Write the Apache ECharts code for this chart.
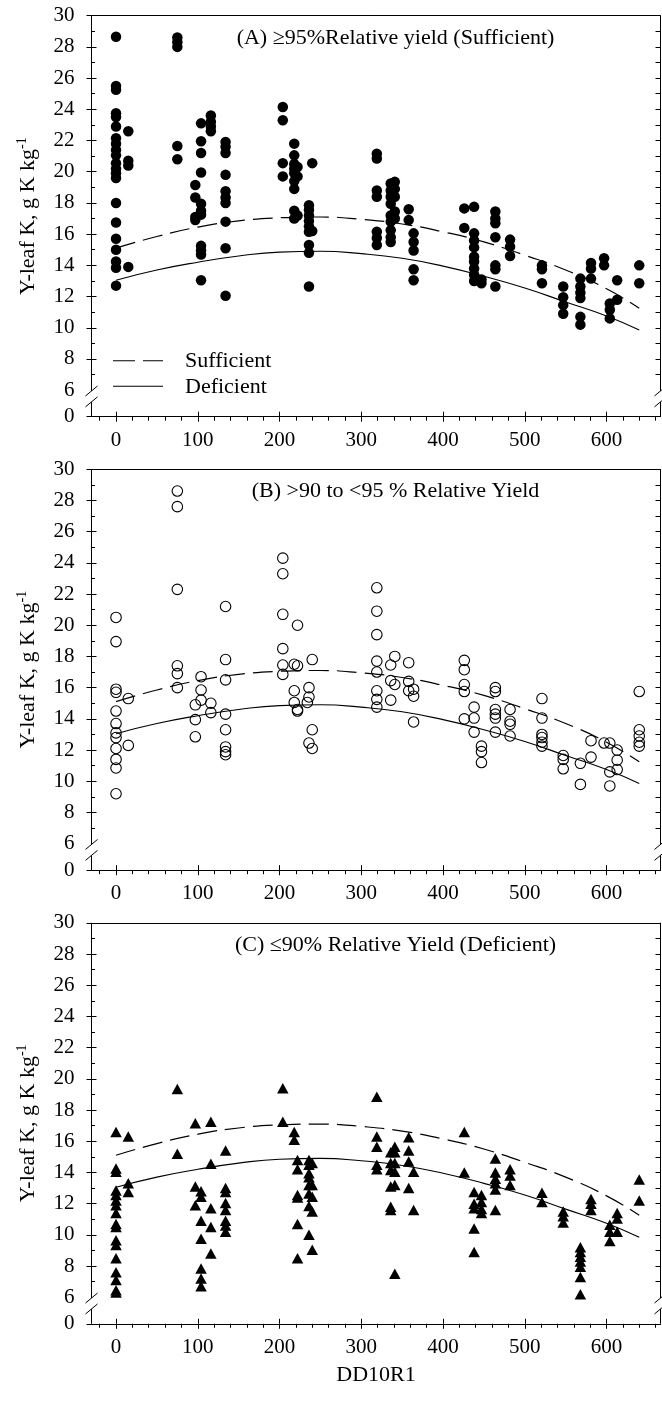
<!DOCTYPE html>
<html>
<head>
<meta charset="utf-8">
<script src="https://cdn.jsdelivr.net/npm/echarts@6/dist/echarts.min.js"></script>
<style>
  html, body { margin: 0; padding: 0; background: #fff; }
  #chart { width: 662px; height: 1404px; }
</style>
</head>
<body>
<div id="chart"></div>
<script>
const FONT = '"Liberation Serif", "Times New Roman", serif';

// Fitted curves (leaf K vs DD10R1) shared by all three panels
const curveX = [0, 50, 100, 150, 200, 250, 300, 350, 400, 450, 500, 550, 600, 640];
const sufficientCurve = [15.1, 15.85, 16.45, 16.85, 17.05, 17.1, 16.95, 16.65, 16.15, 15.5, 14.65, 13.7, 12.5, 11.25];
const deficientCurve = [13.05, 13.7, 14.2, 14.6, 14.85, 14.9, 14.75, 14.45, 13.95, 13.3, 12.55, 11.65, 10.75, 9.85];
const curveNames = ['Sufficient', 'Deficient'];

// Axis ticks
const xTicks = [0, 100, 200, 300, 400, 500, 600];
const xMinorTicks = [-20, 20, 40, 60, 80, 120, 140, 160, 180, 220, 240, 260, 280, 320, 340, 360, 380,
                     420, 440, 460, 480, 520, 540, 560, 580, 620, 640, 660];
const yTicks = [6, 8, 10, 12, 14, 16, 18, 20, 22, 24, 26, 28, 30];
const yMinorTicks = [7, 9, 11, 13, 15, 17, 19, 21, 23, 25, 27, 29];
const yBreakValue = 4.3;   // bottom of the broken axis, labelled "0"

// Observations grouped by DD10R1 value: [DD10R1, [leaf K values]]
const panelA = [
  [0, [28.65, 25.5, 25.25, 23.75, 23.5, 22.9, 22.15, 21.8, 21.4, 21.05, 20.55, 20.2, 19.9, 19.6, 18.0, 16.75, 15.7, 15.0, 14.25, 13.85, 12.7]],
  [15, [22.6, 20.7, 20.4, 13.9]],
  [75, [28.6, 28.3, 28.0, 21.65, 20.8]],
  [97, [19.15, 18.35, 17.1, 16.9]],
  [104, [23.1, 21.95, 21.2, 19.95, 17.95, 17.5, 17.25, 15.25, 14.95, 14.7, 13.05]],
  [116, [23.6, 23.2, 22.9, 22.6]],
  [134, [21.9, 21.6, 21.2, 19.8, 18.75, 18.35, 18.0, 16.8, 15.1, 12.05]],
  [204, [24.15, 23.3, 20.55, 19.7]],
  [218, [21.8, 21.05, 20.5, 20.2, 19.9, 19.4, 18.9, 17.5, 17.0]],
  [222, [20.3, 19.7, 17.2]],
  [236, [17.85, 17.55, 17.2, 16.85, 16.5, 16.15, 15.3, 14.8, 12.65]],
  [240, [20.55, 16.2]],
  [319, [21.15, 20.85, 18.8, 18.4, 16.15, 15.75, 15.3]],
  [336, [19.25, 18.8, 18.4, 17.95, 17.2, 16.8, 16.25, 15.8, 15.5]],
  [341, [19.35, 18.9, 18.4, 17.45, 17.0]],
  [358, [17.6, 16.9]],
  [364, [16.05, 15.5, 14.95, 13.75, 13.05]],
  [426, [17.65, 16.4]],
  [438, [17.75, 16.05, 15.6, 15.15, 14.55, 14.25, 13.8, 13.4, 13.0]],
  [447, [13.1, 12.85]],
  [464, [17.45, 17.0, 16.7, 15.8, 14.0, 13.75, 12.65]],
  [482, [15.65, 15.2, 14.6]],
  [521, [14.0, 13.75, 12.85]],
  [547, [12.65, 11.95, 11.45, 10.9]],
  [568, [13.15, 12.65, 12.25, 11.9, 10.7, 10.2]],
  [581, [14.15, 13.8, 13.15]],
  [597, [14.45, 14.0]],
  [604, [11.55, 11.15, 10.6]],
  [613, [13.05, 11.8]],
  [640, [14.0, 12.85]]
];

const panelB = [
  [0, [20.5, 18.95, 15.9, 15.7, 14.5, 13.7, 13.1, 12.8, 12.1, 11.4, 10.85, 9.2]],
  [15, [15.3, 12.3]],
  [75, [28.6, 27.6, 22.3, 17.4, 16.9, 16.0]],
  [97, [14.9, 13.95, 12.85]],
  [104, [16.7, 15.85, 15.2]],
  [116, [15.0, 14.4]],
  [134, [21.2, 17.8, 16.5, 14.3, 13.3, 12.2, 11.9, 11.7]],
  [204, [24.3, 23.3, 20.7, 18.5, 17.45, 16.85]],
  [218, [17.5, 15.8, 15.05]],
  [222, [20.0, 17.4, 14.6, 14.5]],
  [234, [15.05]],
  [236, [16.0, 15.4, 12.45]],
  [240, [17.8, 13.3, 12.1]],
  [319, [22.4, 20.9, 19.4, 17.7, 17.0, 15.8, 15.25, 14.75]],
  [336, [17.45, 16.45, 15.2]],
  [341, [18.0, 16.2]],
  [358, [17.6, 16.4, 15.8]],
  [364, [15.9, 15.45, 13.8]],
  [426, [17.75, 17.15, 16.2, 15.75, 14.0]],
  [438, [14.75, 14.05, 13.15]],
  [447, [12.25, 11.9, 11.2]],
  [464, [16.0, 15.75, 14.6, 14.3, 14.05, 13.15]],
  [482, [14.6, 13.85, 13.65, 12.9]],
  [521, [15.3, 14.05, 13.0, 12.8, 12.5, 12.25]],
  [547, [11.65, 11.4, 10.8]],
  [568, [11.15, 9.8]],
  [581, [12.6, 11.55]],
  [597, [12.45]],
  [604, [12.45, 10.6, 9.7]],
  [613, [12.0, 11.35, 10.75]],
  [640, [15.75, 13.3, 12.9, 12.5, 12.25]]
];

const panelC = [
  [0, [16.6, 14.25, 14.05, 12.85, 12.55, 12.2, 11.9, 11.4, 10.7, 10.5, 9.65, 9.35, 8.5, 7.6, 7.1, 6.45, 6.3]],
  [15, [16.3, 13.3, 12.75]],
  [75, [19.35, 15.2]],
  [97, [17.15, 13.1, 11.9]],
  [104, [12.8, 12.45, 10.9, 9.75, 7.85, 7.2, 6.7]],
  [116, [17.25, 14.55, 11.7, 10.5, 8.8]],
  [134, [15.4, 13.0, 12.75, 12.05, 11.6, 10.9, 10.6, 10.2]],
  [204, [19.4, 17.25]],
  [218, [16.6, 16.1]],
  [222, [14.8, 14.2, 12.55, 12.4, 10.7, 8.5]],
  [236, [14.8, 14.5, 13.95, 13.7, 13.2, 12.65, 11.85, 10.0]],
  [240, [14.6, 13.2, 12.45, 11.5, 9.05]],
  [319, [18.85, 16.3, 15.65, 14.5, 14.2]],
  [336, [15.3, 14.6, 14.15, 13.1, 11.8, 11.6]],
  [341, [15.65, 15.3, 14.6, 14.05, 13.2, 7.5]],
  [358, [16.25, 15.4, 14.7, 13.0]],
  [364, [14.05, 11.6]],
  [426, [16.6, 14.0]],
  [438, [12.75, 12.0, 11.7, 10.4, 8.9]],
  [447, [12.55, 12.1, 11.65, 11.4]],
  [464, [14.9, 14.0, 13.6, 13.3, 12.9, 11.6]],
  [482, [14.2, 13.8, 13.2]],
  [521, [12.7, 12.1]],
  [547, [11.5, 11.2, 10.8]],
  [568, [9.2, 8.9, 8.6, 8.3, 7.95, 7.3, 6.2]],
  [581, [12.3, 12.0, 11.6]],
  [604, [10.65, 10.2, 9.6]],
  [613, [11.4, 11.05, 10.2]],
  [640, [13.55, 12.2]]
];

const panelTitles = [
  '(A) \u226595%Relative yield (Sufficient)',
  '(B) >90 to <95 % Relative Yield',
  '(C) \u226490% Relative Yield (Deficient)'
];

// Layout of the three stacked plots
const X_MIN = -30, X_MAX = 666, Y_MAX = 30;
const GRID_LEFT = 91.5, GRID_WIDTH = 569, GRID_HEIGHT = 401;
const gridTops = [15.7, 469.2, 922.8];
const TITLE_OFFSET = 22.3;
const DASH = [20, 8];

const markerStyles = [
  { symbol: 'circle', symbolSize: 10.5, itemStyle: { color: '#000', opacity: 1 } },
  { symbol: 'circle', symbolSize: 10.5, itemStyle: { color: 'rgba(0,0,0,0)', borderColor: '#000', borderWidth: 1.1, opacity: 1 } },
  { symbol: 'triangle', symbolSize: [11.5, 10.5], itemStyle: { color: '#000', opacity: 1 } }
];
const panels = [panelA, panelB, panelC];

const toPoints = cols => cols.flatMap(([x, ys]) => ys.map(y => [x, y]));
const zip = (xs, ys) => xs.map((x, i) => [x, ys[i]]);

const tickLabel = { fontFamily: FONT, fontSize: 21, color: '#000' };
const blackLine = { color: '#000', width: 1 };

const grid = [], xAxis = [], yAxis = [], series = [], graphic = [];

panels.forEach((cols, i) => {
  grid.push({ left: GRID_LEFT, top: gridTops[i], width: GRID_WIDTH, height: GRID_HEIGHT, outerBoundsMode: 'none' });

  const xBase = { type: 'value', gridIndex: i, min: X_MIN, max: X_MAX, splitLine: { show: false } };
  // bottom axis with labels and outward major ticks
  xAxis.push(Object.assign({}, xBase, {
    position: 'bottom',
    axisLine: { show: true, onZero: false, lineStyle: blackLine },
    axisTick: { show: true, customValues: xTicks, length: 5, lineStyle: blackLine },
    axisLabel: Object.assign({ customValues: xTicks, margin: 13 }, tickLabel),
    name: i === 2 ? 'DD10R1' : '',
    nameLocation: 'middle',
    nameGap: 40,
    nameTextStyle: { fontFamily: FONT, fontSize: 22, color: '#000' }
  }));
  // inward half of the major ticks
  xAxis.push(Object.assign({}, xBase, {
    position: 'bottom',
    axisLine: { show: false, onZero: false },
    axisTick: { show: true, inside: true, customValues: xTicks, length: 5, lineStyle: blackLine },
    axisLabel: { show: false }
  }));
  // minor ticks
  xAxis.push(Object.assign({}, xBase, {
    position: 'bottom',
    axisLine: { show: false, onZero: false },
    axisTick: { show: true, customValues: xMinorTicks, length: 4, lineStyle: blackLine },
    axisLabel: { show: false }
  }));
  // top frame line
  xAxis.push(Object.assign({}, xBase, {
    position: 'top',
    axisLine: { show: true, onZero: false, lineStyle: blackLine },
    axisTick: { show: false },
    axisLabel: { show: false }
  }));

  const yBase = { type: 'value', gridIndex: i, min: yBreakValue, max: Y_MAX, splitLine: { show: false } };
  // left axis: labels, outward major ticks, title
  yAxis.push(Object.assign({}, yBase, {
    position: 'left',
    axisLine: { show: false, onZero: false },
    axisTick: { show: true, customValues: [yBreakValue].concat(yTicks.slice(1)), length: 5, lineStyle: blackLine },
    axisLabel: Object.assign({
      customValues: [yBreakValue].concat(yTicks),
      margin: 17,
      formatter: v => (v < 5 ? '0' : String(v))
    }, tickLabel),
    name: '{m|Y-leaf K, g K kg}{s|-1}',
    nameLocation: 'middle',
    nameGap: 50,
    nameTextStyle: {
      rich: {
        m: { fontFamily: FONT, fontSize: 22, color: '#000', lineHeight: 26, verticalAlign: 'middle' },
        s: { fontFamily: FONT, fontSize: 14, color: '#000', lineHeight: 14, verticalAlign: 'top' }
      }
    }
  }));
  // inward half of the major ticks
  yAxis.push(Object.assign({}, yBase, {
    position: 'left',
    axisLine: { show: false, onZero: false },
    axisTick: { show: true, inside: true, customValues: yTicks.slice(1), length: 5, lineStyle: blackLine },
    axisLabel: { show: false }
  }));
  // minor ticks, inward
  yAxis.push(Object.assign({}, yBase, {
    position: 'left',
    axisLine: { show: false, onZero: false },
    axisTick: { show: true, inside: true, customValues: yMinorTicks, length: 3.5, lineStyle: blackLine },
    axisLabel: { show: false }
  }));
  // right frame ticks
  yAxis.push(Object.assign({}, yBase, {
    position: 'right',
    axisLine: { show: false, onZero: false },
    axisTick: { show: true, inside: true, customValues: yMinorTicks.concat(yTicks.slice(1, -1)), length: 5, lineStyle: blackLine },
    axisLabel: { show: false }
  }));

  const axes = { xAxisIndex: 4 * i, yAxisIndex: 4 * i };
  series.push(Object.assign({
    name: curveNames[0], type: 'line', data: zip(curveX, sufficientCurve), smooth: true,
    symbol: 'none', silent: true, z: 2,
    lineStyle: { color: '#000', width: 1.2, type: DASH }
  }, axes));
  series.push(Object.assign({
    name: curveNames[1], type: 'line', data: zip(curveX, deficientCurve), smooth: true,
    symbol: 'none', silent: true, z: 2,
    lineStyle: { color: '#000', width: 1.1, type: 'solid' }
  }, axes));
  series.push(Object.assign({
    name: 'obs' + i, type: 'scatter', data: toPoints(cols), z: 3, silent: true
  }, markerStyles[i], axes));

  graphic.push({
    type: 'text', silent: true,
    style: {
      text: panelTitles[i], x: 395.5, y: gridTops[i] + TITLE_OFFSET,
      align: 'center', verticalAlign: 'middle',
      fontFamily: FONT, fontSize: 22, fill: '#000'
    }
  });
});

// Key for the two curves, inside panel A
const keyRows = [
  { y: 360.7, dash: [22, 8] },
  { y: 386.3, dash: null }
];
keyRows.forEach((row, k) => {
  graphic.push({
    type: 'line', silent: true,
    shape: { x1: 113, y1: row.y, x2: 163, y2: row.y },
    style: { stroke: '#000', lineWidth: 1.1, lineDash: row.dash }
  });
  graphic.push({
    type: 'text', silent: true,
    style: {
      text: curveNames[k], x: 185, y: row.y + 0.5,
      align: 'left', verticalAlign: 'middle',
      fontFamily: FONT, fontSize: 22, fill: '#000'
    }
  });
});

const option = {
  animation: false,
  backgroundColor: '#fff',
  grid, xAxis, yAxis, series,
  graphic
};

const chart = echarts.init(document.getElementById('chart'), null, { renderer: 'canvas' });
chart.setOption(option);

// Left/right frame lines with the "//" axis-break marks between 0 and 6
const frame = [];
const segment = (x1, y1, x2, y2) => ({
  type: 'line', silent: true,
  shape: { x1, y1, x2, y2 },
  style: { stroke: '#000', lineWidth: 1 }
});
panels.forEach((cols, i) => {
  const px = v => chart.convertToPixel({ xAxisIndex: 4 * i }, v);
  const py = v => chart.convertToPixel({ yAxisIndex: 4 * i }, v);
  const yTop = py(Y_MAX), yBottom = py(yBreakValue);
  const yHi = py(5.95), yLo = py(5.25);
  [px(X_MIN), px(X_MAX)].forEach(x => {
    frame.push(segment(x, yTop, x, yHi));
    frame.push(segment(x, yLo, x, yBottom));
    frame.push(segment(x - 6, yHi + 5, x + 6, yHi - 5));
    frame.push(segment(x - 6, yLo + 5, x + 6, yLo - 5));
  });
});
chart.setOption({ graphic: graphic.concat(frame) });
</script>
</body>
</html>
